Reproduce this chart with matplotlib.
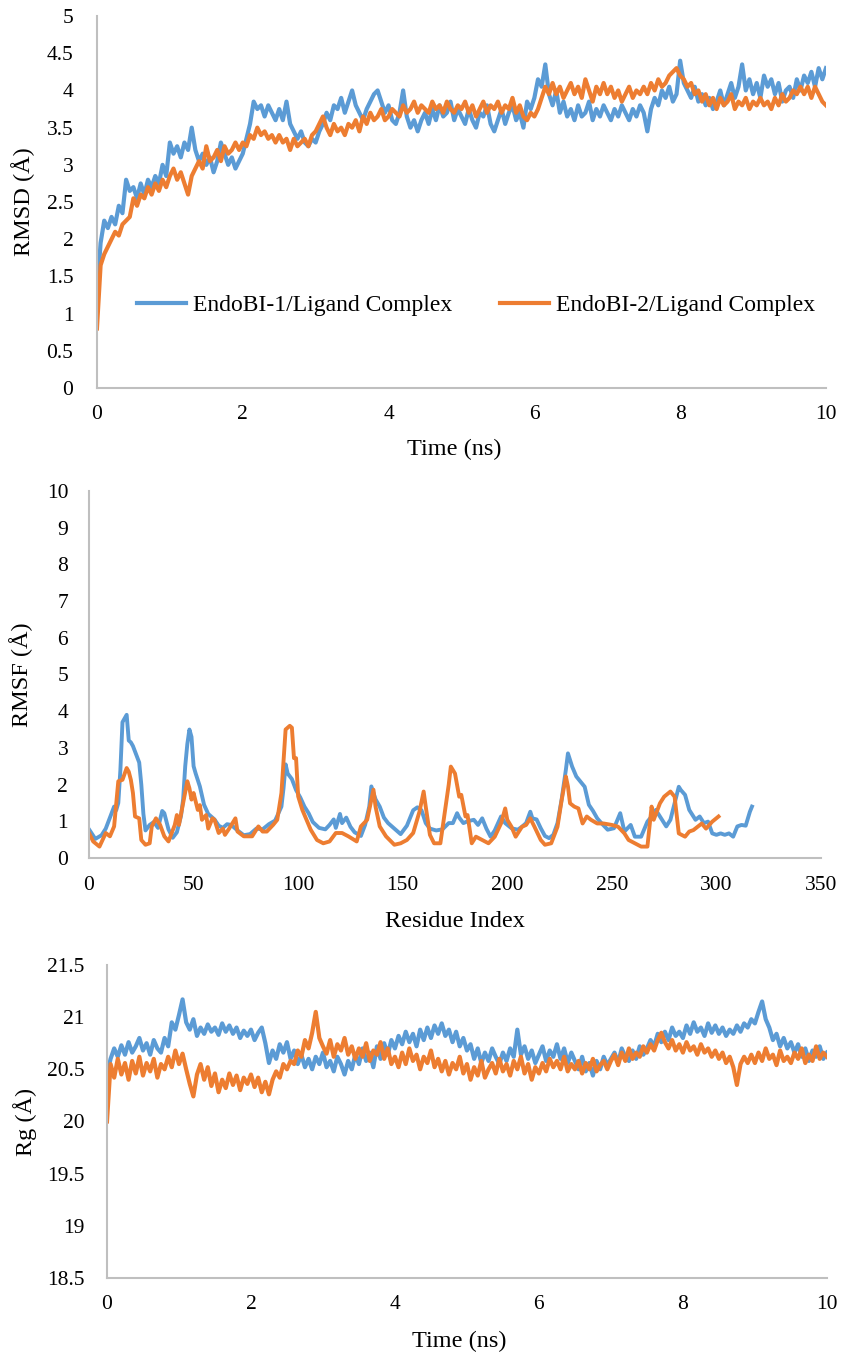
import numpy as np
import matplotlib
matplotlib.use('Agg')
import matplotlib.pyplot as plt
from matplotlib.ticker import MultipleLocator, FuncFormatter

plt.rcParams['font.family'] = ['Liberation Serif', 'DejaVu Serif']

BLUE = '#5B9BD5'
ORANGE = '#ED7D31'
AXIS_GRAY = '#BFBFBF'

labels = ['EndoBI-1/Ligand Complex', 'EndoBI-2/Ligand Complex']

# ---- RMSD vs time (ns), sampled every 0.05 ns ----
time_ns = np.arange(201) * 0.05

rmsd_1 = [
    1.25, 1.95, 2.25, 2.15, 2.30, 2.20, 2.45, 2.35, 2.80, 2.65,
    2.70, 2.55, 2.75, 2.60, 2.80, 2.70, 2.85, 2.75, 3.00, 2.85,
    3.30, 3.15, 3.25, 3.10, 3.30, 3.20, 3.50, 3.20, 3.05, 3.15,
    3.00, 3.10, 2.90, 3.05, 3.30, 3.15, 3.00, 3.10, 2.95, 3.05,
    3.15, 3.35, 3.55, 3.85, 3.75, 3.80, 3.65, 3.80, 3.70, 3.60,
    3.75, 3.60, 3.85, 3.55, 3.45, 3.35, 3.45, 3.30, 3.25, 3.35,
    3.30, 3.45, 3.55, 3.70, 3.60, 3.80, 3.75, 3.90, 3.70, 3.85,
    4.00, 3.80, 3.70, 3.60, 3.75, 3.85, 3.95, 4.00, 3.85, 3.70,
    3.80, 3.60, 3.55, 3.70, 4.00, 3.65, 3.50, 3.60, 3.45, 3.60,
    3.70, 3.55, 3.75, 3.60, 3.80, 3.65, 3.70, 3.85, 3.60, 3.75,
    3.65, 3.55, 3.75, 3.60, 3.50, 3.70, 3.65, 3.80, 3.55, 3.45,
    3.60, 3.75, 3.55, 3.70, 3.80, 3.60, 3.70, 3.50, 3.85, 3.75,
    3.90, 4.15, 4.05, 4.35, 3.95, 3.80, 4.00, 3.70, 3.85, 3.65,
    3.75, 3.60, 3.80, 3.65, 3.70, 3.85, 3.60, 3.75, 3.65, 3.80,
    3.70, 3.60, 3.75, 3.65, 3.80, 3.70, 3.60, 3.75, 3.65, 3.80,
    3.70, 3.45, 3.75, 3.90, 3.80, 4.00, 3.90, 4.05, 3.85, 3.95,
    4.40, 4.10, 4.00, 3.90, 4.05, 3.85, 3.95, 3.80, 3.90, 3.75,
    3.85, 4.00, 3.80, 3.95, 4.10, 3.90, 4.05, 4.35, 4.00, 4.15,
    3.95, 4.10, 3.90, 4.20, 4.05, 4.15, 3.95, 4.10, 3.85, 4.00,
    4.05, 3.90, 4.15, 4.00, 4.20, 4.10, 4.25, 4.05, 4.30, 4.15,
    4.30,
]

rmsd_2 = [
    0.80, 1.65, 1.80, 1.90, 2.00, 2.10, 2.05, 2.20, 2.25, 2.30,
    2.55, 2.45, 2.60, 2.55, 2.70, 2.60, 2.75, 2.65, 2.80, 2.70,
    2.85, 2.95, 2.80, 2.90, 2.75, 2.60, 2.85, 2.95, 3.05, 2.95,
    3.25, 3.05, 3.10, 3.20, 3.05, 3.25, 3.15, 3.20, 3.30, 3.20,
    3.30, 3.25, 3.40, 3.35, 3.50, 3.40, 3.45, 3.35, 3.40, 3.30,
    3.40, 3.30, 3.35, 3.20, 3.35, 3.25, 3.30, 3.35, 3.25, 3.40,
    3.45, 3.55, 3.65, 3.50, 3.40, 3.55, 3.45, 3.50, 3.40, 3.55,
    3.50, 3.60, 3.45, 3.65, 3.55, 3.70, 3.60, 3.65, 3.75, 3.60,
    3.65, 3.75, 3.70, 3.65, 3.80, 3.70, 3.75, 3.85, 3.70, 3.80,
    3.75, 3.70, 3.85, 3.75, 3.80, 3.70, 3.85, 3.75, 3.70, 3.80,
    3.75, 3.85, 3.70, 3.80, 3.65, 3.75, 3.85, 3.70, 3.80, 3.75,
    3.85, 3.70, 3.80, 3.75, 3.90, 3.70, 3.80, 3.65, 3.60, 3.70,
    3.65, 3.75, 3.90, 4.05, 3.95, 4.10, 3.95, 4.05, 3.90, 4.00,
    4.10, 3.95, 4.05, 3.90, 4.15, 4.00, 3.85, 4.05, 3.95, 4.10,
    3.95, 4.05, 3.90, 4.00, 3.85, 3.95, 4.05, 3.90, 4.00, 3.95,
    4.05, 3.95, 4.10, 4.00, 4.15, 4.05, 4.10, 4.20, 4.25, 4.30,
    4.20, 4.15, 4.05, 4.10, 3.95, 4.00, 3.85, 3.95, 3.80, 3.90,
    3.75, 3.90, 3.80, 3.85, 3.95, 3.75, 3.85, 3.80, 3.90, 3.75,
    3.85, 3.80, 3.90, 3.80, 3.85, 3.75, 3.90, 3.80, 3.95, 3.85,
    3.90, 4.00, 3.95, 4.05, 3.95, 4.05, 3.90, 4.05, 3.95, 3.85,
    3.80,
]

# ---- RMSF per residue (residue index, value) ----
rmsf_1_res = [0, 3, 6, 8, 10, 12, 13, 14, 15, 16, 18, 19, 20, 21, 23, 24, 25, 26, 27, 29,
              31, 33, 35, 36, 38, 40, 42, 44, 45, 46, 47, 48, 49, 50, 51, 53, 55, 57, 60, 62,
              64, 66, 68, 71, 74, 77, 80, 83, 86, 89, 92, 93, 94, 95, 97, 99, 101, 103, 105, 107,
              110, 113, 115, 117, 118, 120, 121, 123, 125, 127, 130, 132, 134, 135, 137, 139, 141, 143, 146, 149,
              152, 155, 157, 159, 161, 163, 166, 169, 172, 174, 176, 177, 179, 181, 184, 186, 188, 190, 192, 194,
              196, 197, 199, 202, 205, 207, 209, 211, 212, 214, 216, 218, 220, 222, 224, 226, 228, 229, 231, 233,
              235, 237, 239, 241, 243, 245, 248, 251, 254, 256, 259, 261, 264, 267, 269, 271, 273, 276, 278, 280,
              282, 283, 285, 287, 290, 292, 294, 296, 298, 300, 302, 304, 306, 308, 310, 312, 314, 316, 317]
rmsf_1 = [0.78, 0.52, 0.62, 0.80, 1.10, 1.40, 1.30, 1.50, 2.40, 3.70, 3.90, 3.20, 3.15, 3.05, 2.75, 2.60, 2.00, 1.20, 0.75, 0.90,
          0.98, 0.82, 1.28, 1.22, 0.78, 0.55, 0.70, 1.15, 1.60, 2.50, 3.10, 3.50, 3.30, 2.50, 2.30, 1.95, 1.45, 1.20, 1.05, 0.88,
          0.82, 0.92, 0.90, 0.75, 0.62, 0.65, 0.80, 0.78, 0.92, 1.02, 1.40, 1.90, 2.55, 2.30, 2.15, 1.85, 1.65, 1.40, 1.22, 0.98,
          0.82, 0.78, 0.90, 1.05, 0.82, 1.20, 0.95, 1.10, 0.85, 0.70, 0.60, 0.90, 1.40, 1.95, 1.60, 1.40, 1.10, 0.95, 0.80, 0.65,
          0.88, 1.30, 1.38, 1.30, 0.95, 0.80, 0.75, 0.78, 0.95, 0.95, 1.22, 1.10, 0.95, 1.00, 1.04, 0.90, 1.08, 0.80, 0.58, 0.75,
          1.00, 1.13, 0.95, 0.81, 0.77, 0.85, 0.95, 1.26, 1.08, 1.05, 0.81, 0.60, 0.54, 0.63, 0.95, 1.60, 2.40, 2.85, 2.49, 2.22,
          2.08, 1.94, 1.45, 1.28, 1.08, 0.95, 0.77, 0.81, 1.22, 0.72, 0.90, 0.58, 0.58, 0.99, 1.13, 1.31, 1.13, 0.86, 1.04, 1.49,
          1.94, 1.85, 1.72, 1.31, 1.04, 1.13, 0.95, 0.99, 0.67, 0.63, 0.67, 0.63, 0.67, 0.58, 0.86, 0.90, 0.88, 1.26, 1.40]

rmsf_2_res = [0, 2, 5, 8, 10, 12, 14, 16, 18, 19, 20, 21, 22, 24, 25, 27, 29, 30, 32, 34,
              36, 38, 41, 42, 43, 45, 47, 48, 49, 50, 52, 53, 54, 56, 57, 59, 60, 62, 64, 65,
              67, 70, 71, 74, 78, 81, 83, 85, 88, 90, 92, 94, 96, 97, 98, 99, 100, 102, 104, 106,
              109, 112, 115, 118, 121, 124, 128, 130, 133, 136, 137, 139, 142, 146, 149, 152, 155, 158, 160, 161,
              163, 165, 168, 170, 172, 173, 175, 177, 178, 180, 181, 183, 185, 188, 191, 194, 197, 199, 200, 202,
              204, 207, 209, 211, 213, 216, 218, 221, 224, 226, 228, 229, 230, 232, 234, 236, 238, 240, 243, 246,
              250, 253, 256, 258, 261, 264, 267, 269, 270, 273, 275, 278, 280, 282, 285, 287, 289, 293, 295, 298,
              301]
rmsf_2 = [0.68, 0.45, 0.31, 0.68, 0.59, 0.86, 2.09, 2.13, 2.45, 2.35, 2.13, 1.77, 1.13, 1.08, 0.49, 0.36, 0.40, 0.86, 1.08, 0.90,
          0.59, 0.45, 0.90, 1.17, 0.90, 1.50, 2.09, 1.90, 1.59, 1.77, 1.31, 1.44, 1.04, 1.17, 0.80, 1.08, 1.04, 0.68, 0.80, 0.63,
          0.80, 1.08, 0.72, 0.59, 0.59, 0.86, 0.72, 0.72, 0.90, 1.04, 1.77, 3.50, 3.60, 3.55, 2.72, 2.72, 1.68, 1.31, 1.04, 0.77,
          0.49, 0.40, 0.45, 0.68, 0.68, 0.59, 0.45, 0.86, 1.04, 1.86, 1.40, 0.86, 0.59, 0.36, 0.40, 0.49, 0.68, 1.26, 1.81, 1.40,
          0.63, 0.40, 0.40, 1.20, 2.00, 2.49, 2.30, 1.67, 1.72, 1.13, 1.17, 0.40, 0.58, 0.49, 0.40, 0.58, 0.94, 1.35, 1.04, 0.85,
          0.58, 0.85, 0.90, 1.08, 0.85, 0.49, 0.36, 0.40, 0.85, 1.58, 2.22, 1.95, 1.49, 1.40, 1.35, 0.94, 1.13, 1.04, 0.94, 0.94,
          0.90, 0.85, 0.67, 0.49, 0.40, 0.31, 0.31, 1.40, 1.04, 1.49, 1.67, 1.81, 1.67, 0.67, 0.58, 0.72, 0.76, 0.94, 0.80, 0.99,
          1.13]

# ---- Radius of gyration vs time (ns), sampled every 0.05 ns ----
rg_1 = [
    20.45, 20.60, 20.70, 20.62, 20.73, 20.64, 20.76, 20.66, 20.72, 20.80,
    20.68, 20.75, 20.64, 20.78, 20.70, 20.66, 20.80, 20.72, 20.95, 20.88,
    21.02, 21.17, 20.95, 20.88, 20.98, 20.82, 20.90, 20.84, 20.93, 20.86,
    20.90, 20.83, 20.94, 20.86, 20.92, 20.84, 20.90, 20.80, 20.87, 20.82,
    20.88, 20.78, 20.85, 20.90, 20.75, 20.56, 20.68, 20.60, 20.74, 20.66,
    20.76, 20.60, 20.68, 20.55, 20.64, 20.52, 20.60, 20.50, 20.62, 20.55,
    20.66, 20.52, 20.58, 20.48, 20.62, 20.55, 20.45, 20.58, 20.50, 20.64,
    20.55, 20.70, 20.58, 20.66, 20.52, 20.72, 20.60, 20.75, 20.64, 20.78,
    20.70, 20.82, 20.74, 20.86, 20.76, 20.84, 20.72, 20.88, 20.78, 20.90,
    20.80, 20.92, 20.84, 20.94, 20.82, 20.88, 20.76, 20.86, 20.72, 20.80,
    20.68, 20.74, 20.60, 20.70, 20.56, 20.66, 20.58, 20.70, 20.62, 20.55,
    20.66, 20.58, 20.70, 20.62, 20.88, 20.64, 20.72, 20.60, 20.68, 20.56,
    20.64, 20.72, 20.58, 20.68, 20.62, 20.74, 20.60, 20.70, 20.56, 20.66,
    20.58, 20.50, 20.62, 20.48, 20.56, 20.44, 20.58, 20.50, 20.62, 20.54,
    20.60, 20.66, 20.56, 20.70, 20.62, 20.58, 20.68, 20.60, 20.72, 20.64,
    20.70, 20.78, 20.72, 20.84, 20.76, 20.86, 20.78, 20.90, 20.82, 20.86,
    20.80, 20.92, 20.84, 20.95, 20.86, 20.90, 20.82, 20.94, 20.85, 20.92,
    20.84, 20.90, 20.82, 20.88, 20.84, 20.92, 20.86, 20.94, 20.90, 20.98,
    20.94, 21.05, 21.15, 20.98, 20.90, 20.78, 20.84, 20.72, 20.80, 20.70,
    20.76, 20.66, 20.74, 20.62, 20.70, 20.58, 20.68, 20.62, 20.72, 20.60,
    20.66,
]

rg_2 = [
    20.00, 20.55, 20.42, 20.60, 20.45, 20.56, 20.40, 20.58, 20.46, 20.62,
    20.44, 20.56, 20.48, 20.60, 20.42, 20.55, 20.50, 20.62, 20.52, 20.68,
    20.55, 20.65, 20.50, 20.36, 20.24, 20.45, 20.55, 20.40, 20.52, 20.34,
    20.46, 20.28, 20.40, 20.32, 20.46, 20.35, 20.44, 20.30, 20.42, 20.36,
    20.45, 20.33, 20.42, 20.28, 20.38, 20.26, 20.40, 20.48, 20.42, 20.55,
    20.50, 20.58, 20.55, 20.68, 20.62, 20.78, 20.70, 20.85, 21.05, 20.80,
    20.72, 20.65, 20.78, 20.62, 20.74, 20.68, 20.80, 20.64, 20.72, 20.60,
    20.70, 20.62, 20.75, 20.58, 20.68, 20.64, 20.76, 20.60, 20.70, 20.55,
    20.62, 20.52, 20.66, 20.55, 20.70, 20.58, 20.64, 20.50, 20.62, 20.56,
    20.68, 20.52, 20.60, 20.48, 20.58, 20.45, 20.56, 20.50, 20.62, 20.46,
    20.55, 20.40, 20.52, 20.44, 20.58, 20.42, 20.50, 20.56, 20.46, 20.60,
    20.48, 20.55, 20.44, 20.58, 20.50, 20.62, 20.46, 20.55, 20.40, 20.52,
    20.46, 20.56, 20.48, 20.60, 20.52, 20.58, 20.50, 20.62, 20.48, 20.55,
    20.50, 20.58, 20.46, 20.56, 20.50, 20.60, 20.48, 20.54, 20.58, 20.50,
    20.58, 20.64, 20.54, 20.66, 20.58, 20.70, 20.60, 20.66, 20.62, 20.72,
    20.66, 20.74, 20.68, 20.78, 20.85, 20.76, 20.70, 20.78, 20.68, 20.74,
    20.66, 20.76, 20.68, 20.72, 20.64, 20.74, 20.66, 20.70, 20.62, 20.68,
    20.60, 20.66, 20.56, 20.62, 20.52, 20.35, 20.55, 20.62, 20.56, 20.64,
    20.56, 20.66, 20.58, 20.70, 20.60, 20.64, 20.54, 20.68, 20.58, 20.62,
    20.56, 20.66, 20.60, 20.70, 20.56, 20.64, 20.58, 20.72, 20.60, 20.66,
    20.62,
]

TICK_FS = 15.5
LABEL_FS = 17.5
LEGEND_FS = 17
fmt = FuncFormatter(lambda v, pos: '%g' % v)


def style_axes(ax, xpad, ypad):
    for side in ['top', 'right']:
        ax.spines[side].set_visible(False)
    for side in ['left', 'bottom']:
        ax.spines[side].set_color(AXIS_GRAY)
        ax.spines[side].set_linewidth(1.5)
    ax.tick_params(axis='x', length=0, labelsize=TICK_FS, pad=xpad)
    ax.tick_params(axis='y', length=0, labelsize=TICK_FS, pad=ypad)
    ax.xaxis.set_major_formatter(fmt)
    ax.yaxis.set_major_formatter(fmt)


fig = plt.figure(figsize=(8.43, 13.61), dpi=100)

# Panel 1: RMSD
ax1 = fig.add_axes([0.115, 0.7149, 0.8648, 0.2733])
ax1.plot(time_ns, rmsd_1, color=BLUE, lw=3, label=labels[0])
ax1.plot(time_ns, rmsd_2, color=ORANGE, lw=3, label=labels[1])
ax1.set_xlim(0, 10)
ax1.set_ylim(0, 5)
ax1.xaxis.set_major_locator(MultipleLocator(2))
ax1.yaxis.set_major_locator(MultipleLocator(0.5))
style_axes(ax1, 12, 17)
ax1.set_xlabel('Time (ns)', fontsize=LABEL_FS)
ax1.set_ylabel('RMSD (Å)', fontsize=LABEL_FS)
ax1.xaxis.set_label_coords(0.49, -0.138)
ax1.yaxis.set_label_coords(-0.085, 0.5)
ax1.legend(loc='center', bbox_to_anchor=(0.52, 0.223), ncol=2, frameon=False,
           fontsize=LEGEND_FS, handlelength=2.1, columnspacing=2.0, handletextpad=0.3)

# Panel 2: RMSF
ax2 = fig.add_axes([0.1056, 0.3696, 0.8683, 0.2697])
ax2.plot(rmsf_1_res, rmsf_1, color=BLUE, lw=2.8)
ax2.plot(rmsf_2_res, rmsf_2, color=ORANGE, lw=2.8)
ax2.set_xlim(0, 350)
ax2.set_ylim(0, 10)
ax2.xaxis.set_major_locator(MultipleLocator(50))
ax2.yaxis.set_major_locator(MultipleLocator(1))
style_axes(ax2, 13, 15)
ax2.set_xlabel('Residue Index', fontsize=LABEL_FS)
ax2.set_ylabel('RMSF (Å)', fontsize=LABEL_FS)
ax2.xaxis.set_label_coords(0.5, -0.145)
ax2.yaxis.set_label_coords(-0.0765, 0.5)

# Panel 3: Rg
ax3 = fig.add_axes([0.1269, 0.061, 0.854, 0.23])
ax3.plot(time_ns, rg_1, color=BLUE, lw=3)
ax3.plot(time_ns, rg_2, color=ORANGE, lw=3)
ax3.set_xlim(0, 10)
ax3.set_ylim(18.5, 21.5)
ax3.xaxis.set_major_locator(MultipleLocator(2))
ax3.yaxis.set_major_locator(MultipleLocator(0.5))
style_axes(ax3, 12, 16)
ax3.set_xlabel('Time (ns)', fontsize=LABEL_FS)
ax3.set_ylabel('Rg (Å)', fontsize=LABEL_FS)
ax3.xaxis.set_label_coords(0.49, -0.17)
ax3.yaxis.set_label_coords(-0.097, 0.5)

fig.savefig('out.png', dpi=100)
